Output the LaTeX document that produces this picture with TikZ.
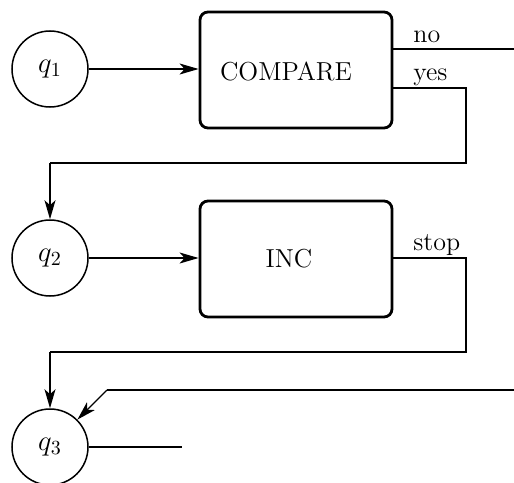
\documentclass[tikz,border=0pt]{standalone}
\usetikzlibrary{arrows.meta}
\begin{document}
\begin{tikzpicture}[x=0.5pt,y=-0.5pt,
  font=\fontsize{13}{15.5}\selectfont,
  state/.style={draw,circle,line width=0.75pt,minimum size=38pt,inner sep=0pt,
    font=\fontsize{14.5}{17}\selectfont},
  unit/.style={draw,rounded corners=4pt,line width=1.4pt,minimum width=96pt,minimum height=58pt,inner sep=0pt},
  wire/.style={line width=0.7pt},
  flow/.style={wire,-{Stealth[length=9.5pt,width=5.5pt,inset=2.5pt]}},
  tag/.style={anchor=base west,inner sep=0pt}]
\useasboundingbox (0,0) rectangle (514,482);

% states
\node[state] (q1) at (50,69) {$q_1$};
\node[state] (q2) at (50,258) {$q_2$};
\node[state] (q3) at (50,447) {$q_3$};

% operation boxes
\node[unit] (cmp) at (296,70) {};
\node at (286,71) {COMPARE};
\node[unit] (inc) at (296,259) {};
\node at (289,259) {INC};

% free ends
\coordinate (noEnd) at (514,49);
\coordinate (yesA) at (466,88);
\coordinate (yesB) at (466,163);
\coordinate (yesC) at (50,163);
\coordinate (stopA) at (466,258);
\coordinate (stopB) at (466,352);
\coordinate (stopC) at (50,352);
\coordinate (inA) at (514,390);
\coordinate (inB) at (107,390);
\coordinate (outEnd) at (182,447);

% connectors
\draw[flow] (q1.east) -- (q1.east -| cmp.west);
\draw[flow] (q2.east) -- (q2.east -| inc.west);

\draw[wire] (cmp.east |- noEnd) -- (noEnd);
\node[tag] at (413,42) {no};

\draw[wire] (cmp.east |- yesA) -- (yesA) -- (yesB) -- (yesC);
\draw[flow] (yesC) -- (q2.north);
\node[tag] at (413,80) {yes};

\draw[wire] (inc.east |- stopA) -- (stopA) -- (stopB) -- (stopC);
\draw[flow] (stopC) -- (q3.north);
\node[tag] at (413,250) {stop};

\draw[wire] (inA) -- (inB);
\draw[flow] (inB) -- (q3.45);

\draw[wire] (q3.east) -- (outEnd);
\end{tikzpicture}
\end{document}
